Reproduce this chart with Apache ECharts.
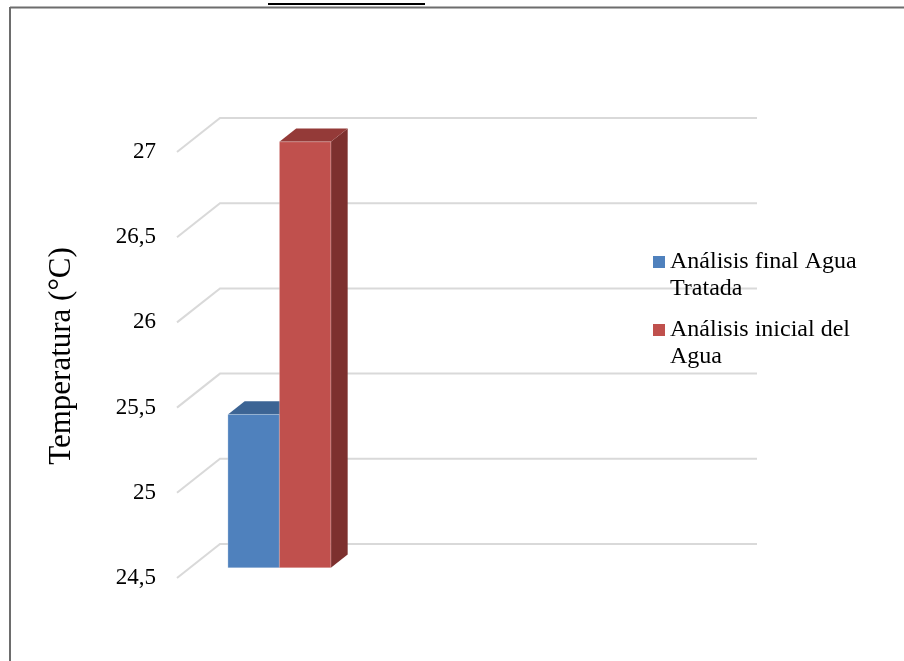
<!DOCTYPE html>
<html>
<head>
<meta charset="utf-8">
<script src="https://cdn.jsdelivr.net/npm/echarts@6/dist/echarts.min.js"></script>
<style>
  html, body { margin: 0; padding: 0; background: #fff; }
  #chart { width: 904px; height: 661px; }
</style>
</head>
<body>
<div id="chart"></div>
<script>
// Temperature of the water before and after treatment (3D clustered columns)
const categories = [''];
const seriesNames = ['Análisis final Agua Tratada', 'Análisis inicial del Agua'];
const finalValues = [25.4];
const initialValues = [27.0];
const yTicks = [24.5, 25, 25.5, 26, 26.5, 27];
const legendLabels = {
  'Análisis final Agua Tratada': 'Análisis final Agua\nTratada',
  'Análisis inicial del Agua': 'Análisis inicial del\nAgua'
};

// Fake-3D geometry (pixels)
const DEPTH = { dx: 43, dy: -34 };        // full depth of the floor / walls
const BAR_FRONT = 0.30;                    // depth fraction of the bars' front face
const BAR_BACK = 0.69;                     // depth fraction of the bars' back face
const CLUSTER_OFFSET = 38;                 // cluster start from the plot's left edge
const BAR_W = 51.5;

const palette = [
  { front: '#4f81bd', top: '#3c6494', side: '#385d8a' },
  { front: '#c0504d', top: '#943a38', side: '#7d302e' }
];

const FONT = '"Liberation Serif", "Times New Roman", serif';

const chart = echarts.init(document.getElementById('chart'), null, { renderer: 'canvas' });

function wallRenderer(params, api) {
  const cs = params.coordSys;
  const v = api.value(0);
  const y = api.coord([0, v])[1];
  const x0 = cs.x;
  const x1 = cs.x + cs.width;
  return {
    type: 'polyline',
    shape: { points: [[x0, y], [x0 + DEPTH.dx, y + DEPTH.dy], [x1 + DEPTH.dx, y + DEPTH.dy]] },
    style: { stroke: '#d9d9d9', lineWidth: 2, fill: null }
  };
}

function barRenderer(seriesIdx) {
  return function (params, api) {
    const cat = api.value(0);
    const v = api.value(1);
    const band = api.size([1, 0])[0];
    const bandLeft = api.coord([cat, v])[0] - band / 2;
    const yTop = api.coord([cat, v])[1];
    const yBase = api.coord([cat, yTicks[0]])[1];
    const fx = DEPTH.dx * BAR_FRONT, fy = DEPTH.dy * BAR_FRONT;
    const bx = DEPTH.dx * BAR_BACK, by = DEPTH.dy * BAR_BACK;
    const left = bandLeft + CLUSTER_OFFSET + seriesIdx * BAR_W;
    const right = left + BAR_W;
    const c = palette[seriesIdx];
    // front face corners
    const fl = left + fx, fr = right + fx, ft = yTop + fy, fb = yBase + fy;
    // back offsets relative to front
    const ddx = bx - fx, ddy = by - fy;
    return {
      type: 'group',
      children: [
        {
          type: 'polygon',
          shape: { points: [[fr, ft], [fr + ddx, ft + ddy], [fr + ddx, fb + ddy], [fr, fb]] },
          style: { fill: c.side }
        },
        {
          type: 'polygon',
          shape: { points: [[fl, ft], [fl + ddx, ft + ddy], [fr + ddx, ft + ddy], [fr, ft]] },
          style: { fill: c.top }
        },
        {
          type: 'rect',
          shape: { x: fl, y: ft, width: fr - fl, height: fb - ft },
          style: { fill: c.front, stroke: 'rgba(255,255,255,0.25)', lineWidth: 1 }
        }
      ]
    };
  };
}

const option = {
  backgroundColor: '#ffffff',
  animation: false,
  grid: { left: 177, right: 190, top: 152, bottom: 83 },
  xAxis: {
    type: 'category',
    data: categories,
    show: false
  },
  yAxis: {
    type: 'value',
    min: 24.5,
    max: 27,
    interval: 0.5,
    name: 'Temperatura (°C)',
    nameLocation: 'middle',
    nameGap: 100,
    nameTextStyle: { fontFamily: FONT, fontSize: 31, color: '#000', padding: [0, 0, 0, 18] },
    axisLine: { show: false },
    axisTick: { show: false },
    splitLine: { show: false },
    axisLabel: {
      margin: 21,
      fontFamily: FONT,
      fontSize: 23,
      color: '#000',
      formatter: v => String(v).replace('.', ',')
    }
  },
  legend: {
    orient: 'vertical',
    left: 653,
    top: 248.5,
    padding: 0,
    itemGap: 14,
    itemWidth: 12,
    itemHeight: 39,
    data: seriesNames.map(n => ({ name: n, icon: 'path://M0,0H12V12H0Z M0,39L0.01,39' })),
    formatter: n => legendLabels[n],
    textStyle: { fontFamily: FONT, fontSize: 24, color: '#000', lineHeight: 27 }
  },
  graphic: [
    { type: 'line', shape: { x1: 10, y1: 7.5, x2: 904, y2: 7.5 }, style: { stroke: '#6d6d6d', lineWidth: 2 } },
    { type: 'line', shape: { x1: 10, y1: 7, x2: 10, y2: 661 }, style: { stroke: '#6d6d6d', lineWidth: 2 } },
    { type: 'line', shape: { x1: 268, y1: 4, x2: 425, y2: 4 }, style: { stroke: '#000', lineWidth: 2 } }
  ],
  series: [
    {
      type: 'custom',
      renderItem: wallRenderer,
      data: yTicks.map(t => [t]),
      encode: { y: 0 },
      silent: true,
      z: 1
    },
    {
      name: seriesNames[0],
      type: 'custom',
      renderItem: barRenderer(0),
      itemStyle: { color: palette[0].front },
      data: categories.map((c, i) => [i, finalValues[i]]),
      encode: { x: 0, y: 1 },
      z: 2
    },
    {
      name: seriesNames[1],
      type: 'custom',
      renderItem: barRenderer(1),
      itemStyle: { color: palette[1].front },
      data: categories.map((c, i) => [i, initialValues[i]]),
      encode: { x: 0, y: 1 },
      z: 3
    }
  ]
};

chart.setOption(option);
</script>
</body>
</html>
